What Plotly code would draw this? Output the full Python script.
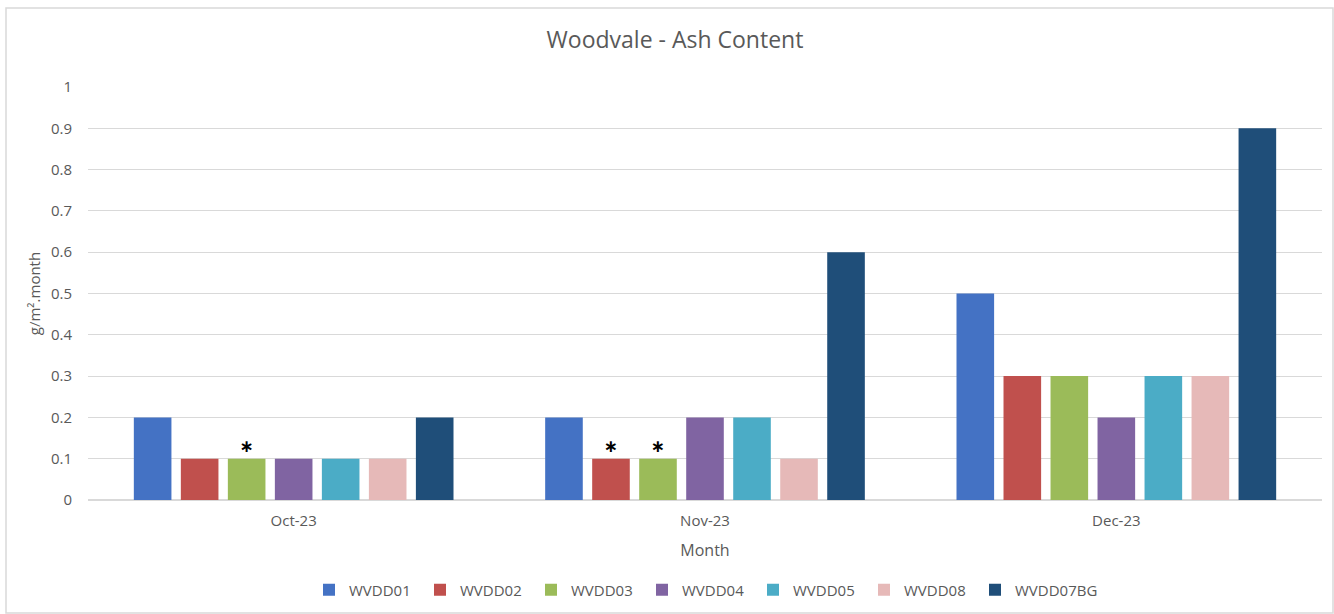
import plotly.graph_objects as go

months = ["Oct-23", "Nov-23", "Dec-23"]
sites = ["WVDD01", "WVDD02", "WVDD03", "WVDD04", "WVDD05", "WVDD08", "WVDD07BG"]
ash = {
    "WVDD01": [0.2, 0.2, 0.5],
    "WVDD02": [0.1, 0.1, 0.3],
    "WVDD03": [0.1, 0.1, 0.3],
    "WVDD04": [0.1, 0.2, 0.2],
    "WVDD05": [0.1, 0.2, 0.3],
    "WVDD08": [0.1, 0.1, 0.3],
    "WVDD07BG": [0.2, 0.6, 0.9],
}
# asterisk flags shown above flagged results
flags = {
    "WVDD02": ["", "*", ""],
    "WVDD03": ["*", "*", ""],
}
colors = ["#4472C4", "#C0504D", "#9BBB59", "#8064A2", "#4BACC6", "#E6B9B8", "#1F4E79"]

FONT = "'Open Sans', 'Liberation Sans', sans-serif"
GREY = "#595959"

fig = go.Figure()
for site, col in zip(sites, colors):
    marks = ["<b>\u2217</b>" if f else "" for f in flags.get(site, ["", "", ""])]
    fig.add_trace(go.Bar(
        name=site, x=months, y=ash[site],
        marker=dict(color=col, line=dict(width=0)),
        text=marks,
        textposition="outside",
        textfont=dict(family="DejaVu Sans, sans-serif", size=17, color="black"),
        cliponaxis=False,
        hoverinfo="x+y+name",
    ))

# empty trailing legend slot so the last label is not clipped
fig.add_trace(go.Scatter(x=[None], y=[None], mode="markers", name="",
                         marker=dict(size=0, color="rgba(0,0,0,0)",
                                     line=dict(width=0)),
                         hoverinfo="skip", showlegend=True))

fig.update_layout(
    width=1334, height=614,
    margin=dict(l=88, r=12, t=87, b=114),
    paper_bgcolor="white", plot_bgcolor="white",
    barmode="group", bargap=0.2, bargroupgap=0.2,
    font=dict(family=FONT, color=GREY, size=15),
    title=dict(text="Woodvale - Ash Content", x=675 / 1334, xref="container",
               xanchor="center", y=1 - 40 / 614, yanchor="middle",
               font=dict(family=FONT, size=23, color=GREY)),
    legend=dict(orientation="h", xref="container", yref="container",
                x=309 / 1334, xanchor="left", y=1 - 590 / 614, yanchor="middle",
                entrywidth=66, font=dict(family=FONT, size=15, color=GREY),
                traceorder="normal"),
    showlegend=True,
)
fig.update_yaxes(range=[0, 1], dtick=0.1, showgrid=True, gridcolor="#D9D9D9",
                 gridwidth=1, zeroline=True, zerolinecolor="#D9D9D9",
                 showline=False, ticks="", ticklabelstandoff=15, automargin=False,
                 title=dict(text="g/m².month", font=dict(family=FONT, size=15, color=GREY),
                            standoff=6),
                 tickfont=dict(family=FONT, size=15, color=GREY))
fig.update_xaxes(showline=False, ticks="", showgrid=False, ticklabelstandoff=10,
                 automargin=False,
                 title=dict(text="Month", font=dict(family=FONT, size=16, color=GREY),
                            standoff=15),
                 tickfont=dict(family=FONT, size=15, color=GREY))

# chart-area border
fig.add_shape(type="rect", xref="paper", yref="paper",
              x0=(6 - 88) / 1234, x1=(1333 - 88) / 1234,
              y0=(500 - 613) / 413, y1=(500 - 8) / 413,
              line=dict(color="#D9D9D9", width=1.5), fillcolor="rgba(0,0,0,0)",
              layer="below")

fig.write_html("out.html")
